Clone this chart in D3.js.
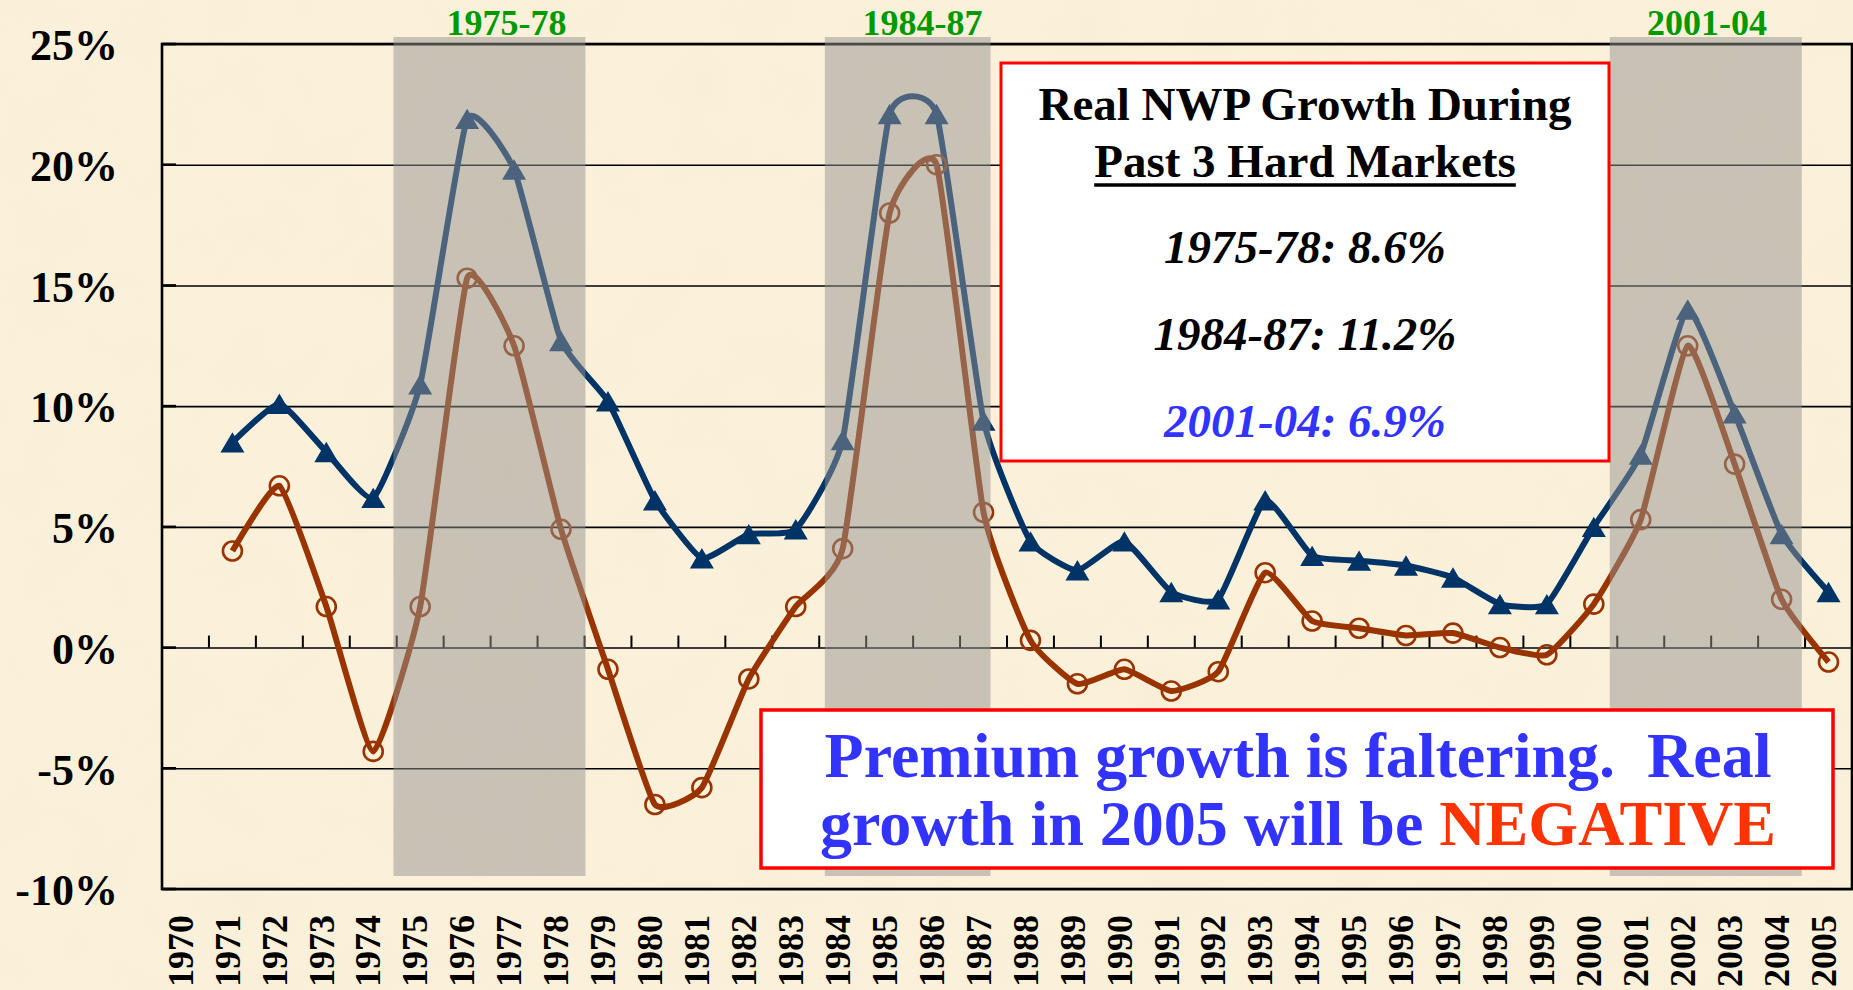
<!DOCTYPE html>
<html>
<head>
<meta charset="utf-8">
<script src="https://cdn.jsdelivr.net/npm/d3@7"></script>
<style>
  html, body { margin: 0; padding: 0; background: #fbf1da; }
  svg { display: block; }
  text { font-family: "Liberation Serif", "Times New Roman", serif; font-weight: bold; }
</style>
</head>
<body>
<div id="vis-holder"></div>
<script>
// Chart data
const years = ["1970","1971","1972","1973","1974","1975","1976","1977","1978","1979",
               "1980","1981","1982","1983","1984","1985","1986","1987","1988","1989",
               "1990","1991","1992","1993","1994","1995","1996","1997","1998","1999",
               "2000","2001","2002","2003","2004","2005"];
const seriesYears = years.slice(1); // data starts in 1971

// nominal NWP growth (navy, triangles)
const nominalGrowth = [8.5, 10.1, 8.1, 6.2, 10.9, 21.9, 19.8, 12.7, 10.2, 6.1,
                       3.7, 4.7, 4.9, 8.6, 22.1, 22.1, 9.4, 4.4, 3.2, 4.4,
                       2.3, 2.0, 6.1, 3.8, 3.6, 3.4, 2.9, 1.8, 1.8, 5.0,
                       8.0, 14.0, 9.7, 4.7, 2.3];
// real NWP growth (brown, open circles)
const realGrowth = [4.0, 6.7, 1.7, -4.3, 1.7, 15.3, 12.5, 4.9, -0.9, -6.5,
                    -5.8, -1.3, 1.7, 4.1, 18.0, 20.0, 5.6, 0.3, -1.5, -0.9,
                    -1.8, -1.0, 3.1, 1.1, 0.8, 0.5, 0.6, 0.0, -0.3, 1.8,
                    5.3, 12.5, 7.6, 2.0, -0.6];

const yTickValues = [-10, -5, 0, 5, 10, 15, 20, 25];

// hard market periods (shaded)
const periodLabels = ["1975-78", "1984-87", "2001-04"];
const periodStart = [1974.93, 1984.12, 2000.84];
const periodEnd = [1979.02, 1987.65, 2004.93];
const periodLabelAt = [1977.34, 1986.2, 2002.91];

const boxTitle = ["Real NWP Growth During", "Past 3 Hard Markets"];
const boxLines = ["1975-78: 8.6%", "1984-87: 11.2%", "2001-04: 6.9%"];
const noteLine1 = "Premium growth is faltering.  Real";
const noteLine2 = "growth in 2005 will be ";
const noteHighlight = "NEGATIVE";

// Layout
const width = 1853, height = 990;
const plotL = 162, plotR = 1852, plotT = 44, plotB = 889;

const svg = d3.select("#vis-holder")
  .append("svg")
  .attr("width", width)
  .attr("height", height);

// parchment background
const defs = svg.append("defs");
const paper = defs.append("filter").attr("id", "paper")
  .attr("x", 0).attr("y", 0).attr("width", "100%").attr("height", "100%");
paper.append("feTurbulence").attr("type", "fractalNoise")
  .attr("baseFrequency", 0.015).attr("numOctaves", 3).attr("seed", 7);
paper.append("feColorMatrix").attr("type", "matrix")
  .attr("values", "0 0 0 0 0.90  0 0 0 0 0.82  0 0 0 0 0.66  1.6 0 0 0 -0.72");

svg.append("rect").attr("width", width).attr("height", height).attr("fill", "#fbf1da");
svg.append("rect").attr("width", width).attr("height", height)
  .attr("filter", "url(#paper)").attr("opacity", 0.35);

// Scales
const x = d3.scaleBand().domain(years).range([plotL, plotR]).padding(0);
const xYear = d3.scaleLinear().domain([1970, 2006]).range([plotL, plotR]);
const y = d3.scaleLinear().domain([-10, 25]).range([plotB, plotT]);
const cx = (yr) => x(yr) + x.bandwidth() / 2;

// Y axis with gridlines
svg.append("g")
  .attr("transform", `translate(${plotL},0)`)
  .call(d3.axisLeft(y)
    .tickValues(yTickValues)
    .tickSize(-(plotR - plotL))
    .tickPadding(44)
    .tickFormat((d) => d + "%"))
  .call((g) => g.select(".domain").remove())
  .call((g) => g.selectAll(".tick line").attr("stroke", "#000").attr("stroke-width", 1.6))
  .call((g) => g.selectAll(".tick text")
    .attr("fill", "#000")
    .attr("font-size", "44px")
    .attr("dy", "0.36em"));

// short ticks on the y axis
svg.append("g").selectAll("line")
  .data(yTickValues)
  .join("line")
  .attr("x1", plotL).attr("x2", plotL + 14)
  .attr("y1", (d) => y(d)).attr("y2", (d) => y(d))
  .attr("stroke", "#000").attr("stroke-width", 2.6);

// ticks on the 0% line at category boundaries
svg.append("g").selectAll("line")
  .data(seriesYears)
  .join("line")
  .attr("x1", (d) => xYear(+d)).attr("x2", (d) => xYear(+d))
  .attr("y1", y(0)).attr("y2", y(0) - 12)
  .attr("stroke", "#000").attr("stroke-width", 2);

// frame
svg.append("rect")
  .attr("x", plotL).attr("y", plotT)
  .attr("width", plotR - plotL).attr("height", plotB - plotT)
  .attr("fill", "none").attr("stroke", "#000").attr("stroke-width", 2.6);

// X axis labels (rotated)
svg.append("g")
  .attr("transform", `translate(0,${plotB})`)
  .call(d3.axisBottom(x).tickSize(0))
  .call((g) => g.select(".domain").remove())
  .call((g) => g.selectAll(".tick text")
    .attr("transform", "rotate(-90)")
    .attr("x", -26)
    .attr("y", 0)
    .attr("dy", "0.2em")
    .attr("text-anchor", "end")
    .attr("fill", "#000")
    .attr("font-size", "36px"));

// Series
const nominalData = seriesYears.map((yr, i) => ({ year: yr, value: nominalGrowth[i] }));
const realData = seriesYears.map((yr, i) => ({ year: yr, value: realGrowth[i] }));

const line = d3.line()
  .x((d) => cx(d.year))
  .y((d) => y(d.value))
  .curve(d3.curveCardinal.tension(0.55));

svg.append("path").datum(nominalData)
  .attr("d", line).attr("fill", "none")
  .attr("stroke", "#003366").attr("stroke-width", 6).attr("stroke-linejoin", "round");

svg.append("path").datum(realData)
  .attr("d", line).attr("fill", "none")
  .attr("stroke", "#993300").attr("stroke-width", 6).attr("stroke-linejoin", "round");

// triangle marker centred on its box
const boxTriangle = {
  draw(context, size) {
    const w = Math.sqrt(size), h = w * 0.85;
    context.moveTo(0, -h / 2);
    context.lineTo(w / 2, h / 2);
    context.lineTo(-w / 2, h / 2);
    context.closePath();
  }
};

svg.append("g").selectAll("path")
  .data(nominalData)
  .join("path")
  .attr("transform", (d) => `translate(${cx(d.year)},${y(d.value)})`)
  .attr("d", d3.symbol(boxTriangle, 24 * 24))
  .attr("fill", "#003366");

svg.append("g").selectAll("circle")
  .data(realData)
  .join("circle")
  .attr("cx", (d) => cx(d.year))
  .attr("cy", (d) => y(d.value))
  .attr("r", 9.5)
  .attr("fill", "none")
  .attr("stroke", "#993300")
  .attr("stroke-width", 2.6);

// shaded hard-market periods, drawn over the lines
svg.append("g").selectAll("rect")
  .data(periodLabels)
  .join("rect")
  .attr("x", (d, i) => xYear(periodStart[i]))
  .attr("width", (d, i) => xYear(periodEnd[i]) - xYear(periodStart[i]))
  .attr("y", plotT - 7)
  .attr("height", plotB - 13 - (plotT - 7))
  .attr("fill", "rgb(150,148,145)")
  .attr("opacity", 0.5);

svg.append("g").selectAll("text")
  .data(periodLabels)
  .join("text")
  .attr("x", (d, i) => xYear(periodLabelAt[i]))
  .attr("y", 35)
  .attr("text-anchor", "middle")
  .attr("font-size", "36px")
  .attr("fill", "#009900")
  .text((d) => d);

// Title box
const box1 = { x: 1001, y: 63, w: 608, h: 398 };
svg.append("rect")
  .attr("x", box1.x).attr("y", box1.y).attr("width", box1.w).attr("height", box1.h)
  .attr("fill", "#fff").attr("stroke", "#ff0000").attr("stroke-width", 3);

const b1cx = box1.x + box1.w / 2;
svg.append("text")
  .attr("x", b1cx).attr("y", 120)
  .attr("text-anchor", "middle").attr("font-size", "47px").attr("fill", "#000")
  .text(boxTitle[0]);

const sub = svg.append("text")
  .attr("x", b1cx).attr("y", 177)
  .attr("text-anchor", "middle").attr("font-size", "47px").attr("fill", "#000")
  .text(boxTitle[1]);
const subLen = sub.node().getComputedTextLength();
svg.append("line")
  .attr("x1", b1cx - subLen / 2).attr("x2", b1cx + subLen / 2)
  .attr("y1", 185).attr("y2", 185)
  .attr("stroke", "#000").attr("stroke-width", 3.5);

const lineColors = ["#000", "#000", "#3333ff"];
const lineBase = [263, 350, 437];
svg.append("g").selectAll("text")
  .data(boxLines)
  .join("text")
  .attr("x", b1cx)
  .attr("y", (d, i) => lineBase[i])
  .attr("text-anchor", "middle")
  .attr("font-size", "47px")
  .attr("font-style", "italic")
  .attr("fill", (d, i) => lineColors[i])
  .text((d) => d);

// Note box
const box2 = { x: 761, y: 710, w: 1072, h: 158 };
svg.append("rect")
  .attr("x", box2.x).attr("y", box2.y).attr("width", box2.w).attr("height", box2.h)
  .attr("fill", "#fff").attr("stroke", "#ff0000").attr("stroke-width", 3.5);

const b2cx = 1298;
svg.append("text")
  .attr("x", b2cx).attr("y", 777)
  .attr("text-anchor", "middle").attr("font-size", "64px").attr("fill", "#3333ff")
  .style("white-space", "pre")
  .text(noteLine1);

const note2 = svg.append("text")
  .attr("x", b2cx).attr("y", 845)
  .attr("text-anchor", "middle").attr("font-size", "64px").attr("fill", "#3333ff")
  .style("white-space", "pre");
note2.append("tspan").text(noteLine2);
note2.append("tspan").attr("fill", "#ff3300").text(noteHighlight);
</script>
</body>
</html>
